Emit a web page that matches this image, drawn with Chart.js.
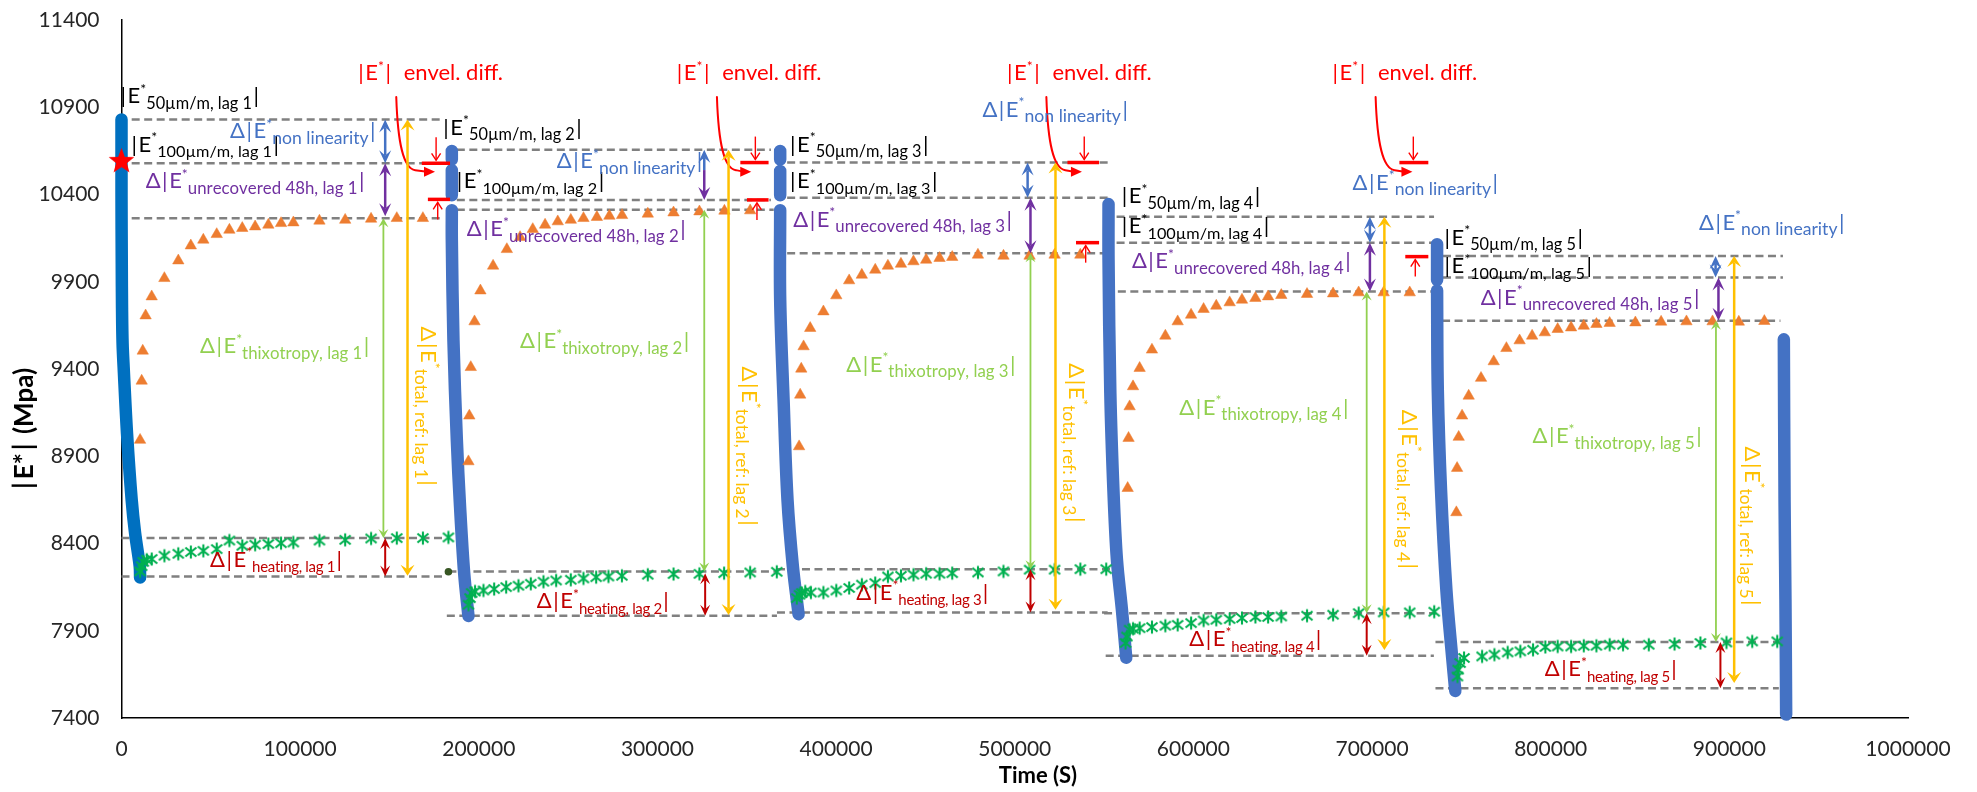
<!DOCTYPE html>
<html>
<head>
<meta charset="utf-8">
<title>|E*| versus time</title>
<script src="https://cdn.jsdelivr.net/npm/chart.js@4.4.1/dist/chart.umd.min.js"></script>
<style>
html,body{margin:0;padding:0;background:#ffffff;overflow:hidden;}
#box{position:relative;width:1977px;height:792px;}
canvas{display:block;}
</style>
</head>
<body>
<div id="box"><canvas id="chart" width="1977" height="792"></canvas></div>
<script>
// ================= DATA =================
const xTickValues = [0,100000,200000,300000,400000,500000,600000,700000,800000,900000,1000000];
const yTickValues = [7400,7900,8400,8900,9400,9900,10400,10900,11400];

// |E*| during loading (blue thick curves), null = break in the curve
const blueLag1 = [[0,10830],[0,10400],[150,10000],[300,9750],[600,9550],[1200,9410],[3100,9030],[5700,8650],[7600,8460],[10200,8270],[10400,8205]];
const blueLag2 = [[184900,10650],[184900,10600],null,[184900,10540],[184900,10395],null,[184900,10310],[184900,10140],[185800,9567],[187700,8994],[189500,8612],[191800,8231],[194200,7985]];
const blueLag3 = [[368700,10650],[368700,10600],null,[368700,10535],[368700,10395],null,[368700,10310],[368700,9797],[370600,9223],[372800,8650],[375800,8269],[379000,7995]];
const blueLag4 = [[552500,10345],[552500,10025],[553500,9262],[555300,8689],[557200,8307],[560000,8020],[562400,7745]];
const blueLag5 = [[736400,10115],[736400,9910],null,[736400,9850],[736800,9281],[738600,8708],[741600,8135],[744800,7753],[746600,7555]];
const blueLag6 = [[930500,9570],[930900,8650],[931400,8078],[931800,7420]];

// recovery at rest (orange triangles)
const recLag1 = [[10400,8993],[11300,9332],[11900,9504],[13500,9706],[16900,9815],[24000,9920],[31800,10021],[38800,10107],[45800,10140],[53300,10172],[60400,10197],[67600,10207],[74800,10216],[82200,10226],[89300,10235],[96200,10239],[110800,10249],[125200,10254],[139700,10260],[154100,10264],[168700,10264]];
const recLag2 = [[194200,8870],[194700,9132],[195500,9410],[197600,9672],[200900,9849],[208000,9991],[215700,10086],[223100,10155],[230200,10201],[237100,10226],[244200,10245],[251500,10254],[258600,10264],[266100,10270],[273100,10277],[280200,10281],[294600,10289],[309000,10296],[323500,10302],[337500,10306],[351900,10308]];
const recLag3 = [[379300,8956],[379900,9252],[380500,9401],[381800,9529],[385500,9634],[392900,9729],[400100,9821],[407300,9907],[414400,9939],[421900,9968],[429000,9991],[436300,10002],[443300,10016],[450400,10025],[457900,10035],[465000,10041],[479400,10054],[493700,10048],[508300,10048],[522300,10054],[536700,10054]];
const recLag4 = [[563200,8717],[563700,9004],[564300,9185],[566200,9300],[569900,9405],[576800,9510],[584300,9590],[591200,9672],[598700,9710],[605700,9743],[612800,9762],[620300,9781],[627200,9796],[634700,9806],[641800,9815],[649200,9823],[663600,9829],[678200,9832],[692500,9838],[706500,9838],[721100,9838]];
const recLag5 = [[747200,8578],[747600,8832],[748500,9010],[750400,9132],[754100,9246],[761000,9348],[768100,9443],[775200,9519],[782600,9563],[789600,9590],[796700,9609],[803900,9628],[811400,9637],[818500,9647],[825600,9657],[833000,9663],[847400,9666],[861800,9670],[876000,9672],[890600,9672],[905300,9670],[919600,9674]];

// heating-corrected (green asterisks)
const heatLag1 = [[10400,8240],[11300,8270],[12200,8295],[14100,8307],[16900,8311],[24000,8330],[31800,8341],[38800,8351],[45800,8358],[53300,8368],[60400,8417],[67600,8387],[74800,8393],[82200,8397],[89300,8402],[96200,8406],[110800,8417],[125200,8421],[139700,8429],[154100,8431],[168700,8431],[183000,8435]];
const heatLag2 = [[194200,8049],[195100,8087],[196000,8116],[197900,8125],[202600,8131],[208600,8139],[215300,8150],[222200,8158],[229100,8169],[236200,8181],[243300,8188],[251500,8192],[258600,8200],[265700,8207],[272600,8211],[280100,8215],[294600,8221],[309000,8225],[323500,8226],[337300,8230],[351900,8234],[366800,8238]];
const heatLag3 = [[378000,8087],[379500,8106],[380800,8116],[382700,8125],[385900,8119],[392900,8119],[400100,8131],[407300,8145],[414400,8164],[421900,8173],[429000,8211],[436300,8215],[443300,8221],[450400,8227],[457900,8227],[465000,8230],[479400,8234],[493700,8240],[508300,8250],[522300,8250],[536700,8253],[551200,8253]];
const heatLag4 = [[562000,7830],[562800,7867],[564300,7906],[566200,7912],[569900,7915],[576800,7921],[584300,7929],[591200,7934],[598700,7944],[605700,7959],[612800,7963],[620300,7967],[627200,7973],[634700,7979],[641800,7979],[649200,7982],[663600,7986],[678200,7992],[692500,8001],[706500,8005],[721100,8005],[734800,8009]];
const heatLag5 = [[747800,7638],[748200,7677],[749300,7715],[751500,7744],[761600,7753],[768500,7763],[775900,7776],[783000,7782],[790100,7791],[797000,7807],[803900,7810],[811400,7810],[818500,7814],[825600,7814],[833000,7820],[840500,7820],[854900,7820],[869300,7824],[883800,7830],[898400,7833],[912800,7839],[926800,7839]];

// single markers
const refStar = [[0,10590]];
const heatStartDot = [[183000,8238]];

// reference levels (dashed): [level, from time, to time]
const refLevels = [
  [10830,5700,178400],[10579,5700,180200],[10264,5700,180200],[8431,0,181600],[8211,0,181600],
  [10656,187700,363500],[10369,187700,363500],[10312,187700,365100],[8240,183000,367000],[7986,182100,366900],
  [10583,372600,552700],[10382,372600,552700],[10063,372600,552700],[8253,366900,554000],[8005,366900,552000],
  [10273,557000,734700],[10124,557000,734700],[9844,557700,733600],[8001,550000,736000],[7757,550900,734600],
  [10048,739700,930000],[9924,739700,930000],[9676,739200,928600],[7835,735500,928600],[7570,735500,927700]
];

// ================= ANNOTATION CONFIG =================
const COL = {K:'#000000', B:'#4472C4', P:'#7030A0', G:'#92D050', Y:'#FFC000', R:'#FF0000', DR:'#C00000'};
const FONT_FAMILY = 'Lato, "Liberation Sans", sans-serif';
const KIND = {
  n:   {size:22, dy:0},
  bar: {size:22, dy:0, padL:1.5, padR:1.5},
  sup: {size:14, dy:-9.5},
  sub: {size:17, dy:5.5}
};
const LABEL_W = {K50:141, K100:150, B:147, P:219, G:169, DR:134, Y:160};
const lab = (sub, lead) => (lead === 'E'
  ? [['|','bar'],['E','n'],['*','sup'],[sub,'sub'],['|','bar']]
  : [['Δ','n'],['|','bar'],['E','n'],['*','sup'],[sub,'sub'],['|','bar']]);
const envelParts = [['|','bar'],['E','n'],['*','sup'],['|','bar'],['  envel. diff.','n']];

// [time, value, colour, parts, rotated, width key]
const textLabels = [
  [-1400,10923,'K',lab('50µm/m, lag 1','E'),false,'K50'],
  [4760,10645,'K',lab('100µm/m, lag 1','E'),false,'K100'],
  [60760,10722,'B',lab('non linearity'),false,'B'],
  [13550,10436,'P',lab('unrecovered 48h, lag 1'),false,'P'],
  [131700,11056,'R',envelParts,false,null],
  [43960,9491,'G',lab('thixotropy, lag 1'),false,'G'],
  [49560,8268,'DR',lab('heating, lag 1'),false,'DR'],
  [167500,9643,'Y',lab('total, ref: lag 1'),true,'Y'],

  [179300,10741,'K',lab('50µm/m, lag 2','E'),false,'K50'],
  [186800,10436,'K',lab('100µm/m, lag 2','E'),false,'K100'],
  [243700,10550,'B',lab('non linearity'),false,'B'],
  [193300,10160,'P',lab('unrecovered 48h, lag 2'),false,'P'],
  [310000,11056,'R',envelParts,false,null],
  [223100,9519,'G',lab('thixotropy, lag 2'),false,'G'],
  [232500,8030,'DR',lab('heating, lag 2'),false,'DR'],
  [347300,9414,'Y',lab('total, ref: lag 2'),true,'Y'],

  [373400,10645,'K',lab('50µm/m, lag 3','E'),false,'K50'],
  [373400,10436,'K',lab('100µm/m, lag 3','E'),false,'K100'],
  [481900,10846,'B',lab('non linearity'),false,'B'],
  [376000,10216,'P',lab('unrecovered 48h, lag 3'),false,'P'],
  [494800,11056,'R',envelParts,false,null],
  [405700,9385,'G',lab('thixotropy, lag 3'),false,'G'],
  [411300,8078,'DR',lab('heating, lag 3'),false,'DR'],
  [530100,9433,'Y',lab('total, ref: lag 3'),true,'Y'],

  [559100,10350,'K',lab('50µm/m, lag 4','E'),false,'K50'],
  [559100,10178,'K',lab('100µm/m, lag 4','E'),false,'K100'],
  [689100,10426,'B',lab('non linearity'),false,'B'],
  [565600,9978,'P',lab('unrecovered 48h, lag 4'),false,'P'],
  [677000,11056,'R',envelParts,false,null],
  [592100,9137,'G',lab('thixotropy, lag 4'),false,'G'],
  [597700,7810,'DR',lab('heating, lag 4'),false,'DR'],
  [716800,9166,'Y',lab('total, ref: lag 4'),true,'Y'],

  [739700,10111,'K',lab('50µm/m, lag 5','E'),false,'K50'],
  [739700,9949,'K',lab('100µm/m, lag 5','E'),false,'K100'],
  [883000,10197,'B',lab('non linearity'),false,'B'],
  [760800,9767,'P',lab('unrecovered 48h, lag 5'),false,'P'],
  [789800,8975,'G',lab('thixotropy, lag 5'),false,'G'],
  [796700,7638,'DR',lab('heating, lag 5'),false,'DR'],
  [909000,8956,'Y',lab('total, ref: lag 5'),true,'Y']
];

// vertical dimension arrows: [time, top value, bottom value, colour, head at top, head at bottom]
const dimArrows = [
  [147600,10830,10579,'B',1,1],[147600,10579,10275,'P',1,1],[146600,10264,8431,'G',1,1],[147600,8431,8211,'DR',1,1],[160100,10830,8215,'Y',1,1],
  [326200,10656,10540,'B',1,0],[326200,10540,10369,'P',0,1],[326200,10312,8240,'G',1,1],[326700,8230,7986,'DR',1,1],[339800,10656,7990,'Y',1,1],
  [507200,10583,10382,'B',1,1],[508800,10382,10063,'P',1,1],[508800,10063,8253,'G',1,1],[508800,8253,8005,'DR',1,1],[522800,10583,8020,'Y',1,1],
  [698800,10273,10124,'B',1,1],[698800,10124,9844,'P',1,1],[697000,9844,8001,'G',1,1],[697000,8001,7757,'DR',1,1],[706900,10273,7790,'Y',1,1],
  [892300,10048,9924,'B',1,1],[893900,9924,9676,'P',1,1],[892500,9676,7835,'G',1,1],[895000,7835,7570,'DR',1,1],[902700,10048,7600,'Y',1,1]
];
// arrow stroke width, head length, head width per colour
const ARROW_STYLE = {B:[2.5,13,12], P:[2.5,13,12], G:[1.8,9,10], DR:[2,11,10], Y:[2.5,11,14]};

// envelope-difference pointers: curve [start time, end time], levels of start and end
const envelCurves = [[153800,175500],[333300,352500],[517700,537600],[702000,722600]];
const envelCurveLevels = [10959,10531];
// envelope bars: [level, from, to, small arrow time, direction]
const envelBars = [
  [10579,168100,183900,176100,'down'],[10372,171500,183900,177000,'up'],
  [10583,346400,362200,354800,'down'],[10369,350100,362200,355700,'up'],
  [10583,529500,547200,538900,'down'],[10124,534300,547200,539700,'up'],
  [10583,715300,731500,723100,'down'],[10044,718600,731500,724200,'up']
];

// axis titles
const xTitle = 'Time (S)';
const xTitleAt = 513000;
const yTitleParts = ['|','E*','|',' (Mpa)'];
const yTitleAt = 9051;

// plot area inside the 1977x792 canvas
const AREA = {left:121.5, top:20, right:1908, bottom:718};
const X_AXIS_H = 74;

// ================= HELPERS =================
function pts(arr){
  const out=[]; let last=null;
  for(const p of arr){
    if(p){ out.push({x:p[0],y:p[1]}); last=p; }
    else out.push({x:last?last[0]:0,y:null});
  }
  return out;
}
function makeStar(r){
  const c=document.createElement('canvas'); c.width=c.height=Math.ceil(2*r+2);
  const g=c.getContext('2d'); const cx=c.width/2, cy=c.height/2;
  g.fillStyle='#FF0000'; g.beginPath();
  for(let i=0;i<10;i++){ const a=-Math.PI/2+i*Math.PI/5; const rr=(i%2)?r*0.42:r; g.lineTo(cx+rr*Math.cos(a),cy+rr*Math.sin(a)); }
  g.closePath(); g.fill(); return c;
}
function makeAsterisk(){
  const c=document.createElement('canvas'); c.width=16; c.height=16;
  const g=c.getContext('2d'); g.strokeStyle='#00B050'; g.lineWidth=2.1; g.lineCap='butt';
  g.beginPath();
  g.moveTo(8,1.5); g.lineTo(8,14.5);
  g.moveTo(2.5,3.5); g.lineTo(13.5,12.5);
  g.moveTo(13.5,3.5); g.lineTo(2.5,12.5);
  g.stroke(); return c;
}
const starImg = makeStar(13.5);
const astImg = makeAsterisk();

const fontOf = s => s+'px '+FONT_FAMILY;
function drawRich(ctx,x,y,color,parts,rot,target){
  ctx.save();
  let fixed=0, subText='';
  for(const [t,k] of parts){
    const f=KIND[k]; ctx.font=fontOf(f.size);
    if(k==='sub'){ subText+=t; continue; }
    fixed+=ctx.measureText(t).width+(f.padL||0)+(f.padR||0);
  }
  let subSize=KIND.sub.size, spacing=0;
  if(target && subText){
    ctx.font=fontOf(subSize);
    const nat=ctx.measureText(subText).width;
    const need=target-fixed;
    subSize=Math.max(15,Math.min(20,subSize*need/nat));
    ctx.font=fontOf(subSize);
    const w=ctx.measureText(subText).width;
    spacing=Math.max(-1,Math.min(3,(need-w)/Math.max(1,subText.length-1)));
  }
  ctx.translate(x,y); if(rot) ctx.rotate(Math.PI/2);
  ctx.fillStyle=color; ctx.textAlign='left'; ctx.textBaseline='alphabetic';
  let cx=0;
  for(const [t,k] of parts){
    const f=KIND[k];
    if(k==='sub'){
      ctx.font=fontOf(subSize);
      for(const ch of t){ ctx.fillText(ch,cx,f.dy); cx+=ctx.measureText(ch).width+spacing; }
    } else {
      ctx.font=fontOf(f.size);
      cx+=(f.padL||0);
      ctx.fillText(t,cx,f.dy);
      cx+=ctx.measureText(t).width+(f.padR||0);
    }
  }
  ctx.restore();
}
function stealth(ctx,x,y,dir,L,W,color){
  ctx.beginPath(); ctx.moveTo(x,y);
  ctx.lineTo(x-W/2,y-dir*L); ctx.lineTo(x,y-dir*L*0.6); ctx.lineTo(x+W/2,y-dir*L);
  ctx.closePath(); ctx.fillStyle=color; ctx.fill();
}
function openHead(ctx,x,y,dir,L,W){
  ctx.beginPath(); ctx.moveTo(x-W/2,y-dir*L); ctx.lineTo(x,y); ctx.lineTo(x+W/2,y-dir*L); ctx.stroke();
}

// pins the plot area to the reference position
const areaPlugin = {
  id:'pinArea',
  afterLayout(chart){
    const a=chart.chartArea, xs=chart.scales.x, ys=chart.scales.y;
    a.left=AREA.left; a.top=AREA.top; a.right=AREA.right; a.bottom=AREA.bottom;
    a.width=AREA.right-AREA.left; a.height=AREA.bottom-AREA.top;
    xs.left=AREA.left; xs.right=AREA.right; xs.width=a.width;
    xs.top=AREA.bottom; xs.bottom=AREA.bottom+X_AXIS_H; xs.height=X_AXIS_H;
    ys.left=0; ys.right=AREA.left; ys.width=AREA.left;
    ys.top=AREA.top; ys.bottom=AREA.bottom; ys.height=a.height;
    xs.configure(); ys.configure();
  }
};

const annotPlugin = {
  id:'annot',
  afterDatasetsDraw(chart){
    const ctx=chart.ctx, xs=chart.scales.x, ys=chart.scales.y;
    const px=v=>xs.getPixelForValue(v), py=v=>ys.getPixelForValue(v);
    ctx.save();
    ctx.strokeStyle=COL.R; ctx.lineWidth=2; ctx.lineCap='round';
    for(const [s,e] of envelCurves){
      const sx=px(s), sy=py(envelCurveLevels[0]), ex=px(e), ey=py(envelCurveLevels[1]);
      ctx.beginPath(); ctx.moveTo(sx,sy);
      ctx.bezierCurveTo(sx+1.5, sy+(ey-sy)*0.62, sx+7, ey-3, sx+19, ey-1.5);
      ctx.lineTo(ex-8,ey); ctx.stroke();
      ctx.beginPath(); ctx.moveTo(ex,ey); ctx.lineTo(ex-11,ey-5); ctx.lineTo(ex-11,ey+5); ctx.closePath();
      ctx.fillStyle=COL.R; ctx.fill();
    }
    for(const [lv,a,b,ax,dir] of envelBars){
      const y=py(lv);
      ctx.strokeStyle=COL.R; ctx.lineWidth=3.5; ctx.lineCap='butt';
      ctx.beginPath(); ctx.moveTo(px(a),y); ctx.lineTo(px(b),y); ctx.stroke();
      ctx.lineWidth=1.4; const x=px(ax);
      if(dir==='down'){
        ctx.beginPath(); ctx.moveTo(x,y-26); ctx.lineTo(x,y-3); ctx.stroke();
        openHead(ctx,x,y-3,1,7,9);
      } else {
        ctx.beginPath(); ctx.moveTo(x,y+20); ctx.lineTo(x,y+3); ctx.stroke();
        openHead(ctx,x,y+3,-1,7,9);
      }
    }
    for(const [t,top,bot,c,h1,h2] of dimArrows){
      const x=px(t), y1=py(top), y2=py(bot), color=COL[c];
      const [w,L,W]=ARROW_STYLE[c];
      ctx.strokeStyle=color; ctx.lineWidth=w; ctx.lineCap='butt';
      ctx.beginPath(); ctx.moveTo(x,y1+(h1?L*0.6:0)); ctx.lineTo(x,y2-(h2?L*0.6:0)); ctx.stroke();
      if(h1) stealth(ctx,x,y1,-1,L,W,color);
      if(h2) stealth(ctx,x,y2,1,L,W,color);
    }
    for(const [t,v,c,parts,rot,wk] of textLabels){
      drawRich(ctx,px(t),py(v),COL[c],parts,rot,wk?LABEL_W[wk]:null);
    }
    ctx.restore();
  },
  afterDraw(chart){
    const ctx=chart.ctx, xs=chart.scales.x, ys=chart.scales.y, area=chart.chartArea;
    ctx.save();
    ctx.fillStyle='#000'; ctx.font='bold 22px '+FONT_FAMILY;
    ctx.textAlign='center'; ctx.textBaseline='alphabetic';
    ctx.fillText(xTitle, xs.getPixelForValue(xTitleAt), area.bottom+65);
    ctx.translate(area.left-96.5, ys.getPixelForValue(yTitleAt));
    ctx.rotate(-Math.PI/2);
    ctx.font='bold 26px '+FONT_FAMILY; ctx.textBaseline='middle'; ctx.textAlign='left';
    const gaps=[3,0,3,0];
    let total=0; yTitleParts.forEach((p,i)=>{ total+=ctx.measureText(p).width+2*gaps[i]; });
    let cx=-total/2;
    yTitleParts.forEach((p,i)=>{ cx+=gaps[i]; ctx.fillText(p,cx,0); cx+=ctx.measureText(p).width+gaps[i]; });
    ctx.restore();
  }
};

// ================= DATASETS =================
const datasets = [];
refLevels.forEach(([lv,a,b])=>{
  datasets.push({type:'line', data:[{x:a,y:lv},{x:b,y:lv}], borderColor:'#808080', borderWidth:2.5,
    borderDash:[8,4.5], pointRadius:0, tension:0, order:50, clip:false});
});
[[blueLag1,'#0070C0'],[blueLag2,'#4472C4'],[blueLag3,'#4472C4'],[blueLag4,'#4472C4'],[blueLag5,'#4472C4'],[blueLag6,'#4472C4']].forEach(([arr,c])=>{
  datasets.push({type:'line', data:pts(arr), borderColor:c, borderWidth:12.5, borderCapStyle:'round',
    borderJoinStyle:'round', pointRadius:0, tension:0.35, spanGaps:false, order:40, clip:false});
});
[recLag1,recLag2,recLag3,recLag4,recLag5].forEach(arr=>{
  datasets.push({type:'scatter', data:pts(arr), pointStyle:'triangle', pointRadius:6.6,
    backgroundColor:'#ED7D31', borderColor:'#ED7D31', borderWidth:0.5, showLine:false, order:30});
});
[heatLag1,heatLag2,heatLag3,heatLag4,heatLag5].forEach(arr=>{
  datasets.push({type:'scatter', data:pts(arr), pointStyle:astImg, pointRadius:6, showLine:false, order:20});
});
datasets.push({type:'scatter', data:pts(heatStartDot), pointStyle:'circle', pointRadius:3.8,
  backgroundColor:'#375623', borderColor:'#375623', borderWidth:0, order:10});
datasets.push({type:'scatter', data:pts(refStar), pointStyle:starImg, pointRadius:8, order:5, clip:false});

// ================= CHART =================
new Chart(document.getElementById('chart'), {
  type:'scatter',
  data:{datasets},
  options:{
    responsive:false, animation:false, devicePixelRatio:1,
    layout:{padding:{left:0,right:69,top:20,bottom:0}},
    plugins:{legend:{display:false}, tooltip:{enabled:false}, title:{display:false}},
    scales:{
      x:{type:'linear', position:'bottom', min:0, max:1000000,
        grid:{display:false, drawTicks:false},
        border:{display:true, color:'#000000', width:1.5},
        ticks:{font:{family:FONT_FAMILY,size:21}, color:'#262626', padding:19, maxRotation:0, autoSkip:false,
          callback:v=>String(v)},
        afterBuildTicks:s=>{ s.ticks = xTickValues.map(v=>({value:v})); },
        afterFit:s=>{ s.height = X_AXIS_H; }
      },
      y:{type:'linear', position:'left', min:7400, max:11400,
        grid:{display:false, drawTicks:false},
        border:{display:true, color:'#000000', width:1.5},
        ticks:{font:{family:FONT_FAMILY,size:21}, color:'#262626', padding:22, autoSkip:false,
          callback:v=>String(v)},
        afterBuildTicks:s=>{ s.ticks = yTickValues.map(v=>({value:v})); },
        afterFit:s=>{ s.width = AREA.left; }
      }
    }
  },
  plugins:[areaPlugin, annotPlugin]
});
</script>
</body>
</html>
